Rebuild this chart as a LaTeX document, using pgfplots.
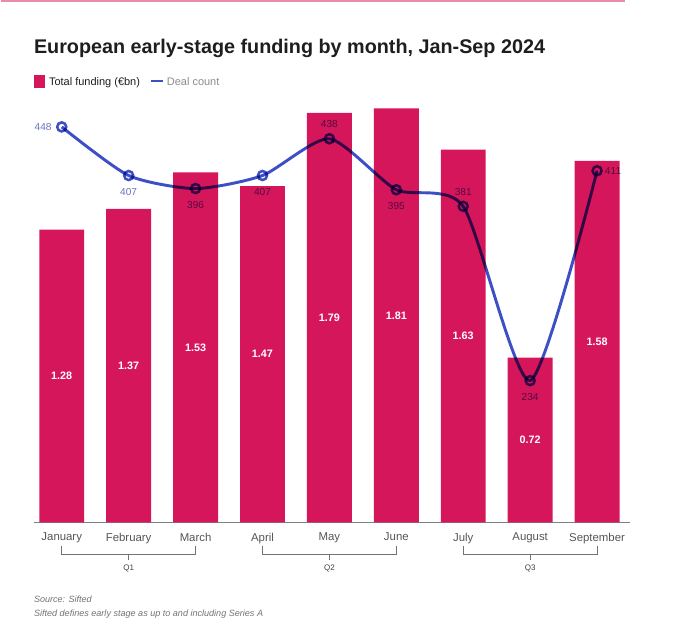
\documentclass[border=0pt]{standalone}
\usepackage{pgfplots}
\pgfplotsset{compat=1.18}
\usepackage{fontspec}
\setmainfont{Liberation Sans}
\definecolor{barpink}{HTML}{D6165A}
\definecolor{lineblue}{HTML}{3D4FC4}
\definecolor{lbl}{HTML}{6673C2}
\definecolor{monthgray}{HTML}{555555}
\definecolor{titlecol}{HTML}{1E1E1E}
\def\pxu{0.75pt}
\begin{document}
\begin{tikzpicture}
% canvas
\path (0,0) rectangle (680*\pxu,-631*\pxu);
\draw[color=barpink!50, line width=1.2pt] (0,-0.8*\pxu) -- (625*\pxu,-0.8*\pxu);
% title
\node[anchor=base west, inner sep=0, font=\fontsize{14.85pt}{16pt}\selectfont\bfseries, text=titlecol] at (33*\pxu,-54*\pxu) {European early-stage funding by month, Jan-Sep 2024};
% legend
\fill[barpink] (33*\pxu,-75*\pxu) rectangle (44*\pxu,-88*\pxu);
\node[anchor=base west, inner sep=0, font=\fontsize{8.25pt}{10pt}\selectfont, text=titlecol] at (48*\pxu,-86*\pxu) {Total funding (€bn)};
\draw[lineblue, line width=1.6pt] (150*\pxu,-81*\pxu) -- (162*\pxu,-81*\pxu);
\node[anchor=base west, inner sep=0, font=\fontsize{8.25pt}{10pt}\selectfont, text=black!45] at (166*\pxu,-86*\pxu) {Deal count};

\begin{axis}[
  at={(33*\pxu,-523*\pxu)}, anchor=south west,
  scale only axis, width=447.75pt, height=317.25pt,
  xmin=-0.418, xmax=8.493, ymin=0, ymax=1.847,
  axis y line=none, axis x line*=bottom,
  x axis line style={draw=black!50, line width=1.1pt},
  xtick={0,...,8},
  xticklabels={January,February,March,April,May,June,July,August,September},
  major tick length=0pt,
  xticklabel style={font=\fontsize{8.55pt}{10pt}\selectfont, text=monthgray, yshift=-4.5pt},
  ytick=\empty,
  clip=false,
]
\addplot[ybar, bar width=33.75pt, fill=barpink, draw=none] coordinates {
 (0,1.28) (1,1.37) (2,1.53) (3,1.47) (4,1.79) (5,1.81) (6,1.63) (7,0.72) (8,1.58)};
\addplot[draw=none, mark=none, nodes near coords, point meta=explicit symbolic,
  every node near coord/.style={anchor=center, font=\fontsize{8.1pt}{10pt}\selectfont\bfseries, text=white}]
 coordinates {
 (0,0.64)[1.28] (1,0.685)[1.37] (2,0.765)[1.53] (3,0.735)[1.47] (4,0.895)[1.79]
 (5,0.905)[1.81] (6,0.815)[1.63] (7,0.36)[0.72] (8,0.79)[1.58]};
\end{axis}

\begin{axis}[
  at={(33*\pxu,-523*\pxu)}, anchor=south west,
  scale only axis, width=447.75pt, height=317.25pt,
  xmin=-0.418, xmax=8.493, ymin=114.4, ymax=470.8,
  hide axis, clip=false,
]
\addplot[lineblue, line width=2.2pt, smooth, tension=0.4, blend mode=multiply,
  mark=*, mark size=3.4pt, mark options={fill=white, draw=lineblue, line width=1.9pt}]
 coordinates {(0,448) (1,407) (2,396) (3,407) (4,438) (5,395) (6,381) (7,234) (8,411)};
% labels below
\addplot[draw=none, mark=none, nodes near coords, point meta=explicit symbolic, blend mode=multiply,
  every node near coord/.style={anchor=center, yshift=-12.4pt, font=\fontsize{7.6pt}{9pt}\selectfont, text=lbl}]
 coordinates {(1,407)[407] (2,396)[396] (3,407)[407] (5,395)[395] (7,234)[234]};
% labels above
\addplot[draw=none, mark=none, nodes near coords, point meta=explicit symbolic, blend mode=multiply,
  every node near coord/.style={anchor=center, yshift=11pt, font=\fontsize{7.6pt}{9pt}\selectfont, text=lbl}]
 coordinates {(4,438)[438] (6,381)[381]};
% label left
\addplot[draw=none, mark=none, nodes near coords, point meta=explicit symbolic, blend mode=multiply,
  every node near coord/.style={anchor=center, xshift=-14pt, font=\fontsize{7.6pt}{9pt}\selectfont, text=lbl}]
 coordinates {(0,448)[448]};
% label right
\addplot[draw=none, mark=none, nodes near coords, point meta=explicit symbolic, blend mode=multiply,
  every node near coord/.style={anchor=center, xshift=12pt, font=\fontsize{7.6pt}{9pt}\selectfont, text=lbl}]
 coordinates {(8,411)[411]};
\end{axis}

% quarter brackets
\foreach \a/\q in {0/Q1,3/Q2,6/Q3}{
  \pgfmathsetmacro{\xl}{61+67*\a}
  \pgfmathsetmacro{\xr}{61+67*(\a+2)}
  \pgfmathsetmacro{\xc}{61+67*(\a+1)}
  \draw[black!55, line width=0.7pt] (\xl*\pxu,-547*\pxu) -- (\xl*\pxu,-555*\pxu) -- (\xr*\pxu,-555*\pxu) -- (\xr*\pxu,-547*\pxu);
  \draw[black!55, line width=0.7pt] (\xc*\pxu,-555*\pxu) -- (\xc*\pxu,-561*\pxu);
  \node[anchor=center, inner sep=0, font=\fontsize{6pt}{7pt}\selectfont, text=black!75] at (\xc*\pxu,-569*\pxu) {\q};
}
% source
\node[anchor=base west, inner sep=0, font=\fontsize{6.8pt}{8pt}\selectfont\itshape, text=black!55] at (33*\pxu,-603*\pxu) {Source: Sifted};
\node[anchor=base west, inner sep=0, font=\fontsize{6.8pt}{8pt}\selectfont\itshape, text=black!55] at (33*\pxu,-617*\pxu) {Sifted defines early stage as up to and including Series A};
\end{tikzpicture}
\end{document}
